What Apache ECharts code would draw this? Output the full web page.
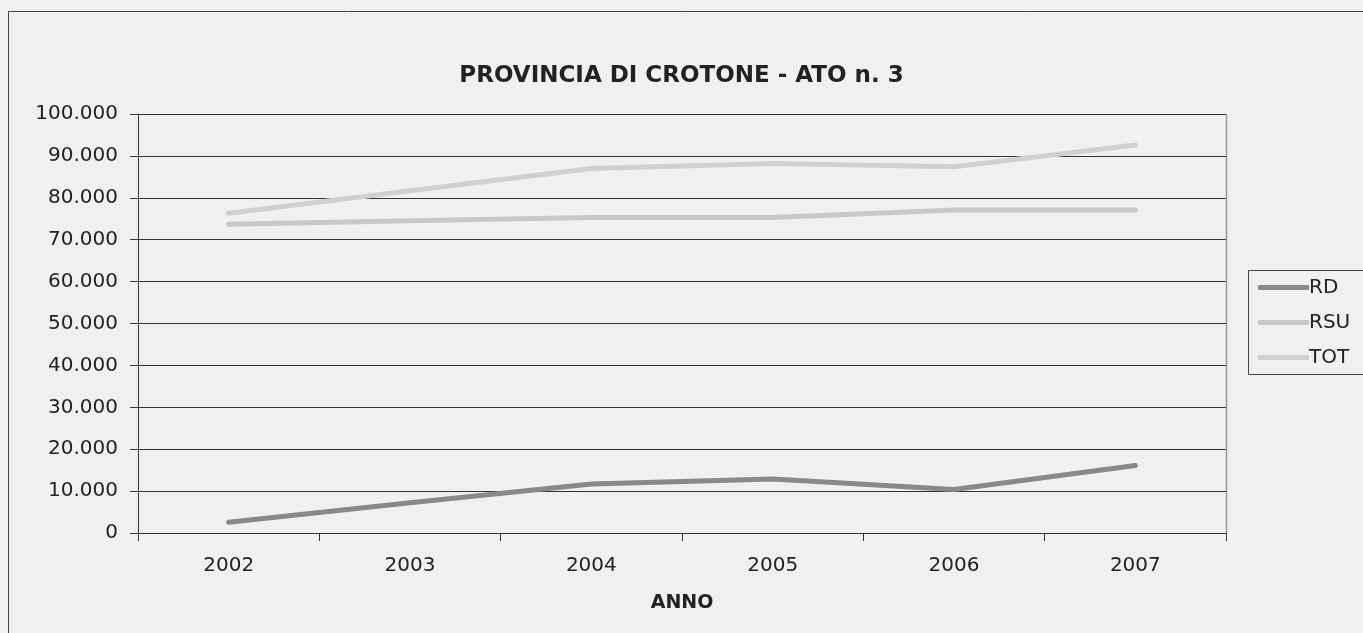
<!DOCTYPE html>
<html>
<head>
<meta charset="utf-8">
<script src="https://cdn.jsdelivr.net/npm/echarts@6/dist/echarts.min.js"></script>
<style>
  html, body { margin: 0; padding: 0; background: #f0f0f0; }
  #main { width: 1363px; height: 633px; }
</style>
</head>
<body>
<div id="main"></div>
<script>
// dati
var anni = ['2002', '2003', '2004', '2005', '2006', '2007'];
var rd = [2550, 7200, 11700, 12900, 10400, 16100];
var rsu = [73700, 74500, 75300, 75300, 77100, 77100];
var tot = [76300, 81700, 87000, 88200, 87400, 92600];

function fmt(value) {
    // separatore migliaia con il punto
    return String(value).replace(/\B(?=(\d{3})+(?!\d))/g, '.');
}

var chart = echarts.init(document.getElementById('main'));
var option = {
    animation: false,
    backgroundColor: '#f0f0f0',
    textStyle: { fontFamily: 'DejaVu Sans, sans-serif' },
    graphic: [{
        type: 'rect',
        shape: { x: 8.5, y: 11.5, width: 1400, height: 700 },
        style: { fill: 'none', stroke: '#444', lineWidth: 1 }
    }, {
        type: 'rect',
        shape: { x: 1248.5, y: 270.5, width: 200, height: 104 },
        style: { fill: 'none', stroke: '#444', lineWidth: 1 }
    }, {
        type: 'line',
        shape: { x1: 1226.5, y1: 114, x2: 1226.5, y2: 533 },
        style: { stroke: '#999', lineWidth: 1.5 }
    }],
    title: {
        text: 'PROVINCIA DI CROTONE - ATO n. 3',
        left: 'center',
        top: 60,
        textStyle: { fontSize: 23, fontWeight: 'bold', color: '#222', fontFamily: 'DejaVu Sans' }
    },
    legend: {
        orient: 'vertical',
        left: 1253,
        top: 271,
        itemWidth: 51,
        itemHeight: 5,
        itemGap: 12,
        icon: 'roundRect',
        textStyle: { fontSize: 20, color: '#222', padding: [0, 0, 0, -5], lineHeight: 23 },
        data: ['RD', 'RSU', 'TOT']
    },
    grid: { left: 138, right: 137, top: 114, bottom: 100 },
    xAxis: {
        type: 'category',
        data: anni,
        boundaryGap: true,
        name: 'ANNO',
        nameLocation: 'middle',
        nameGap: 61,
        nameTextStyle: { fontSize: 19, fontWeight: 'bold', color: '#222' },
        axisLine: { lineStyle: { color: '#333', width: 1 } },
        axisTick: { show: true, length: 8, alignWithLabel: false, lineStyle: { color: '#333' } },
        axisLabel: { fontSize: 20, color: '#222', margin: 23 },
        splitLine: { show: false }
    },
    yAxis: {
        type: 'value',
        min: 0,
        max: 100000,
        interval: 10000,
        axisLine: { show: true, lineStyle: { color: '#333', width: 1 } },
        axisTick: { show: true, length: 8, lineStyle: { color: '#333' } },
        axisLabel: { fontSize: 20, color: '#222', margin: 20, formatter: fmt },
        splitLine: { show: true, lineStyle: { color: '#333', width: 1 } }
    },
    series: [{
        name: 'RD',
        type: 'line',
        data: rd,
        symbol: 'none',
        color: '#898989',
        lineStyle: { width: 5, color: '#898989', cap: 'round' }
    }, {
        name: 'RSU',
        type: 'line',
        data: rsu,
        symbol: 'none',
        color: '#c8c8c8',
        lineStyle: { width: 5, color: '#c8c8c8', cap: 'round' }
    }, {
        name: 'TOT',
        type: 'line',
        data: tot,
        symbol: 'none',
        color: '#d0d0d0',
        lineStyle: { width: 5, color: '#d0d0d0', cap: 'round' }
    }]
};
chart.setOption(option);
</script>
</body>
</html>
